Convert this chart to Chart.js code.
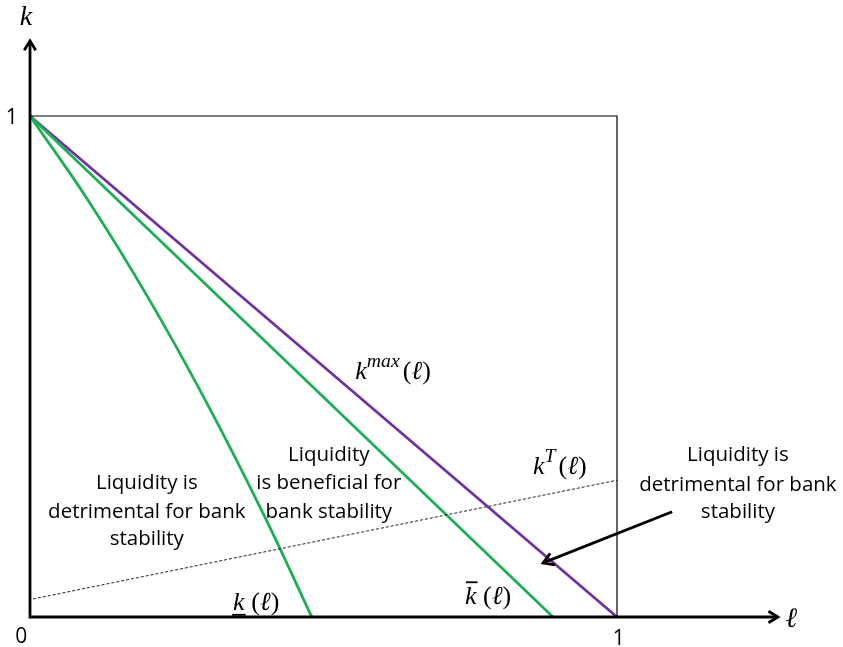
<!DOCTYPE html>
<html>
<head>
<meta charset="utf-8">
<script src="https://cdn.jsdelivr.net/npm/chart.js"></script>
<style>
  html, body { margin: 0; padding: 0; background: #fff; }
  #wrap { width: 843px; height: 647px; position: relative; }
</style>
</head>
<body>
<div id="wrap"><canvas id="chart"></canvas></div>
<script>
// hodnoty (ℓ na ose x, k na ose y)
const kMaxL = [0, 1];
const kMaxK = [1, 0];
const kBarL = [0, 0.891];
const kBarK = [1, 0];
const kLowL = [0, 0.1, 0.2, 0.3, 0.4, 0.48];
const kLowK = [1, 0.83, 0.64, 0.43, 0.2, 0];
const kTL = [0.005, 1];
const kTK = [0.036, 0.273];
const boxL = [0, 1, 1];
const boxK = [1, 1, 0];
const tickLabels = ["0", "1", "1"];

const PURPLE = "#7030a0";
const GREEN = "#1fae57";
const TEXT_FONT = '"Open Sans", sans-serif';
const MATH_FONT = '"Liberation Serif", "DejaVu Serif", serif';

function toPoints(ls, ks) {
    return ls.map((l, i) => ({ x: l, y: ks[i] }));
}

// popisky v souřadnicích grafu
const textBlocks = [
    { l: 0.199, k: [0.267, 0.210, 0.156], lines: ["Liquidity is", "detrimental for bank", "stability"] },
    { l: 0.509, k: [0.323, 0.267, 0.210], lines: ["Liquidity", "is beneficial for", "bank stability"] },
    { l: 1.206, k: [0.323, 0.264, 0.210], lines: ["Liquidity is", "detrimental for bank", "stability"] }
];

const mathLabels = [
    { l: 0.554, k: 0.489, parts: [{ t: "k", it: true }, { t: "max", it: true, sup: true }, { t: "(" }, { t: "ℓ", it: true }, { t: ")" }] },
    { l: 0.857, k: 0.299, parts: [{ t: "k", it: true }, { t: "T", it: true, sup: true }, { t: "(" }, { t: "ℓ", it: true }, { t: ")" }] },
    { l: 0.346, k: 0.028, parts: [{ t: "k", it: true, under: true }, { t: " (" }, { t: "ℓ", it: true }, { t: ")" }] },
    { l: 0.741, k: 0.040, parts: [{ t: "k", it: true, bar: true }, { t: " (" }, { t: "ℓ", it: true }, { t: ")" }] }
];

function drawMath(ctx, x, y, parts, size) {
    let cx = x;
    parts.forEach(p => {
        const fs = p.sup ? size * 0.76 : size;
        ctx.font = `${p.it ? "italic " : ""}${fs}px ${MATH_FONT}`;
        const dy = p.sup ? -size * 0.4 : 0;
        ctx.fillText(p.t, cx, y + dy);
        const w = ctx.measureText(p.t).width;
        if (p.under) {
            ctx.fillRect(cx - 1, y + size * 0.42, w + 2, 1.8);
        }
        if (p.bar) {
            ctx.fillRect(cx + 1, y - size * 0.6, w, 1.8);
        }
        cx += w + (p.sup ? 3 : 0);
    });
}

function arrowHead(ctx, x1, y1, x2, y2, size) {
    const a = Math.atan2(y2 - y1, x2 - x1);
    ctx.beginPath();
    ctx.moveTo(x2 - size * Math.cos(a - 0.55), y2 - size * Math.sin(a - 0.55));
    ctx.lineTo(x2, y2);
    ctx.lineTo(x2 - size * Math.cos(a + 0.55), y2 - size * Math.sin(a + 0.55));
    ctx.stroke();
}

const decorPlugin = {
    id: "decor",
    afterDatasetsDraw(chart) {
        const ctx = chart.ctx;
        const sx = chart.scales.x, sy = chart.scales.y;
        const px = l => sx.getPixelForValue(l);
        const py = k => sy.getPixelForValue(k);
        ctx.save();
        ctx.strokeStyle = "#000";
        ctx.fillStyle = "#000";
        ctx.lineCap = "butt";
        ctx.lineJoin = "miter";

        // osy se šipkami
        ctx.lineWidth = 2.8;
        ctx.beginPath();
        ctx.moveTo(px(0), py(0));
        ctx.lineTo(px(0), py(1.15));
        ctx.moveTo(px(0) - 1.4, py(0));
        ctx.lineTo(px(1.274), py(0));
        ctx.stroke();
        arrowHead(ctx, px(0), py(0), px(0), py(1.15), 11);
        arrowHead(ctx, px(0), py(0), px(1.274), py(0), 11);

        // šipka k oblasti mezi k̄ a k^max
        ctx.lineWidth = 2.8;
        const ax1 = px(1.094), ay1 = py(0.210), ax2 = px(0.874), ay2 = py(0.108);
        ctx.beginPath();
        ctx.moveTo(ax1, ay1);
        ctx.lineTo(ax2, ay2);
        ctx.stroke();
        arrowHead(ctx, ax1, ay1, ax2, ay2, 12);

        // textové bloky
        ctx.font = `20.5px ${TEXT_FONT}`;
        ctx.textAlign = "center";
        ctx.textBaseline = "middle";
        textBlocks.forEach(b => {
            b.lines.forEach((line, i) => ctx.fillText(line, px(b.l), py(b.k[i])));
        });

        // popisky os
        ctx.font = `21px ${TEXT_FONT}`;
        ctx.fillText(tickLabels[0], px(-0.015), py(-0.04));
        ctx.fillText(tickLabels[1], px(1.003), py(-0.044));
        ctx.fillText(tickLabels[2], px(-0.031), py(0.996));

        ctx.font = `italic 28px ${MATH_FONT}`;
        ctx.fillText("k", px(-0.007), py(1.196));
        ctx.fillText("ℓ", px(1.297), py(-0.006));

        // matematické popisky křivek
        ctx.textAlign = "left";
        mathLabels.forEach(m => drawMath(ctx, px(m.l), py(m.k), m.parts, 26));
        ctx.restore();
    }
};

const lineDefaults = { showLine: true, pointRadius: 0, fill: false, borderCapStyle: "butt", clip: false };

new Chart(document.getElementById("chart"), {
    type: "scatter",
    data: {
        datasets: [
            { ...lineDefaults, label: "box", data: toPoints(boxL, boxK), borderColor: "#000", borderWidth: 1.2 },
            { ...lineDefaults, label: "kT", data: toPoints(kTL, kTK), borderColor: "#222", borderWidth: 1, borderDash: [3, 2] },
            { ...lineDefaults, label: "k low", data: toPoints(kLowL, kLowK), borderColor: GREEN, borderWidth: 2.8, tension: 0.4 },
            { ...lineDefaults, label: "k bar", data: toPoints(kBarL, kBarK), borderColor: GREEN, borderWidth: 2.8 },
            { ...lineDefaults, label: "k max", data: toPoints(kMaxL, kMaxK), borderColor: PURPLE, borderWidth: 2.8 }
        ]
    },
    options: {
        responsive: true,
        maintainAspectRatio: false,
        animation: false,
        events: [],
        layout: { padding: { left: 30, right: 49.9, top: 40.85, bottom: 30 } },
        plugins: { legend: { display: false }, tooltip: { enabled: false } },
        scales: {
            x: { type: "linear", min: 0, max: 1.3, display: false },
            y: { type: "linear", min: 0, max: 1.15, display: false }
        }
    },
    plugins: [decorPlugin]
});
</script>
</body>
</html>
